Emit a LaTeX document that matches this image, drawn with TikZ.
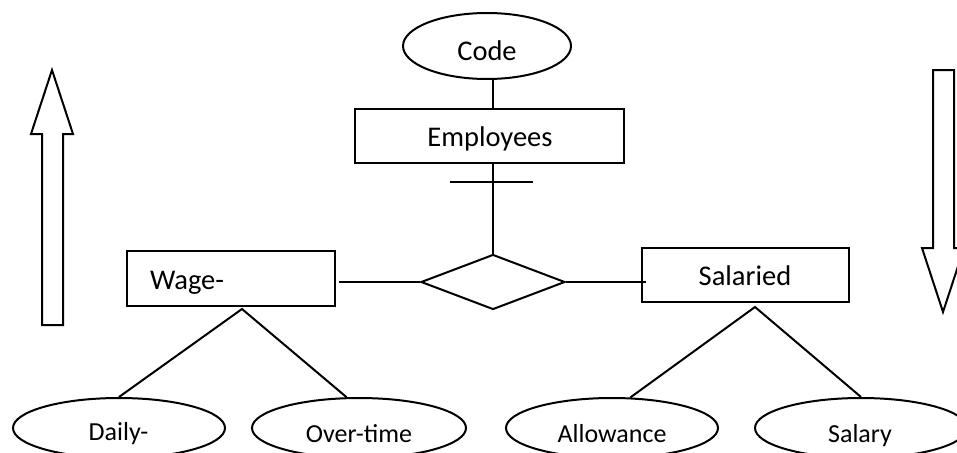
\documentclass[tikz,border=0pt]{standalone}
\usepackage{fontspec}
\setmainfont{Carlito}
\usetikzlibrary{shapes.geometric}
\begin{document}
\begin{tikzpicture}[x=1pt,y=-1pt, line width=2pt,
  ent/.style={draw, rectangle, inner sep=0pt},
  attr/.style={draw, ellipse, inner sep=0pt},
  rel/.style={draw, diamond, inner sep=0pt},
  txt/.style={inner sep=0pt, anchor=base, font=\fontsize{28.5}{34}\selectfont},
  smalltxt/.style={txt, font=\fontsize{26}{31}\selectfont},
  link/.style={draw},
  bigarrow/.style={draw, line join=miter}]
\useasboundingbox (0,0) rectangle (957,452);
\clip (0,0) rectangle (957,452);

% entities, attributes and the relationship
\node[attr, minimum width=168pt, minimum height=66pt] (code) at (487,46) {};
\node[ent, minimum width=269pt, minimum height=54pt] (emp) at (489.5,136) {};
\node[rel, minimum width=144pt, minimum height=55pt] (dia) at (493,282) {};
\node[ent, minimum width=208pt, minimum height=55pt] (wage) at (231,278.5) {};
\node[ent, minimum width=207pt, minimum height=54pt] (sal) at (745.5,275) {};
\node[attr, minimum width=212pt, minimum height=60pt] (daily) at (119,428) {};
\node[attr, minimum width=214pt, minimum height=60pt] (over) at (359,428) {};
\node[attr, minimum width=212pt, minimum height=60pt] (allow) at (612,428) {};
\node[attr, minimum width=212pt, minimum height=60pt] (salary) at (861,428) {};

% labels
\node[txt] (codet) at (487,60) {Code};
\node[txt] (empt) at (490,146.7) {Employees};
\node[txt, anchor=base west] (waget) at (149,289) {Wage-};
\node[txt] (salt) at (745,285.7) {Salaried};
\node[smalltxt] (dailyt) at (118.5,440) {Daily-};
\node[smalltxt] (overt) at (359,442.7) {Over-time};
\node[smalltxt] (allowt) at (612,442.5) {Allowance};
\node[smalltxt] (salaryt) at (860,442.7) {Salary};

% connectors
\coordinate (barL) at (450,182);
\coordinate (barR) at (533,182);
\coordinate (wapex) at (242,309);
\coordinate (sapex) at (755,307);
\draw[link] (dia.north |- code.south) -- (dia.north |- emp.north);
\draw[link] (dia.north |- emp.south) -- (dia.north);
\draw[link] (barL) -- (barR);
\draw[link] ([xshift=3pt]wage.east |- dia.west) -- (dia.west);
\draw[link] (dia.east) -- ([xshift=5pt]sal.west |- dia.east);
\draw[link] (daily.north) -- (wapex) -- (over.112);
\draw[link] (allow.59) -- (sapex) -- (salary.north);

% block arrows at the sides
\draw[bigarrow] (42,325) -- (42,134) -- (31,134) -- (52,70) -- (73,134)
  -- (63,134) -- (63,325) -- cycle;
\draw[bigarrow] (933,70) -- (954,70) -- (954,248) -- (964,248) -- (943,312)
  -- (922,248) -- (933,248) -- cycle;
\end{tikzpicture}
\end{document}
